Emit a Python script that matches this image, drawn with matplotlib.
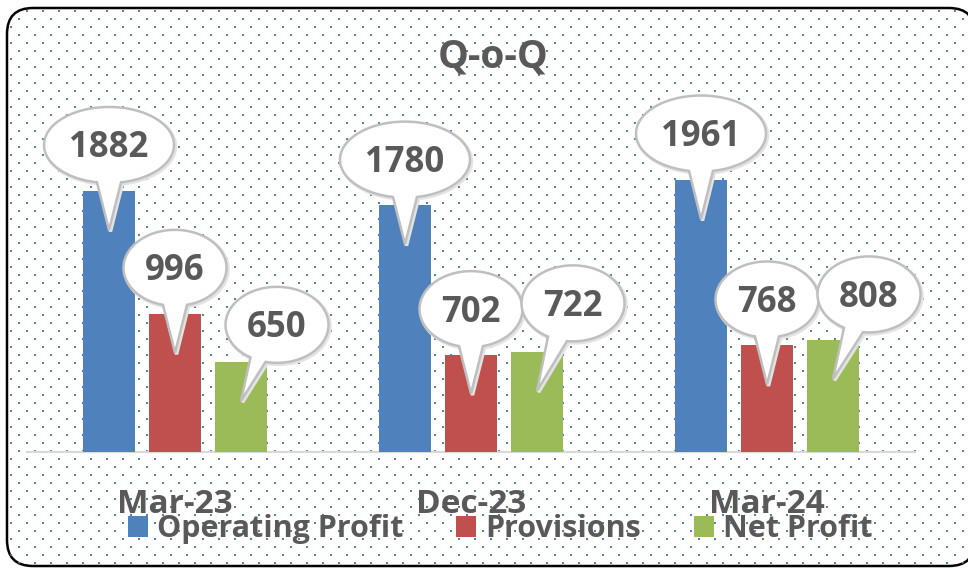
import numpy as np
import matplotlib
matplotlib.use('Agg')
import matplotlib.pyplot as plt
from matplotlib.patches import FancyBboxPatch, Polygon, Rectangle

# ---------------- data ----------------
categories = ['Mar-23', 'Dec-23', 'Mar-24']
series_names = ['Operating Profit', 'Provisions', 'Net Profit']
operating_profit = [1882, 1780, 1961]
provisions = [996, 702, 768]
net_profit = [650, 722, 808]
chart_title = 'Q-o-Q'

# ---------------- style ----------------
colors = ['#4F81BD', '#C0504D', '#9BBB59']
text_color = '#595959'
FONT = ['Open Sans', 'DejaVu Sans']
plt.rcParams['font.family'] = FONT

W, H = 968, 570
fig = plt.figure(figsize=(W / 100, H / 100), dpi=100)
fig.patch.set_facecolor('white')

# background axes in image pixel coords (y down)
bg = fig.add_axes([0, 0, 1, 1], zorder=0)
bg.set_xlim(0, W)
bg.set_ylim(H, 0)
bg.axis('off')

border = FancyBboxPatch((7, 8), 975 - 7, 566 - 8,
                        boxstyle='round,pad=0,rounding_size=26',
                        facecolor='white', edgecolor='black', linewidth=1.8,
                        zorder=1)
bg.add_patch(border)

# dotted pattern as a pixel image
pattern = np.zeros((H, W, 4))
dot_rgb = np.array([0x4F, 0x81, 0xBD]) / 255.0
for j, yy in enumerate(range(2, H - 1, 8)):
    for xx in range(2 + 8 * (j % 2), W - 1, 16):
        pattern[yy:yy + 2, xx:xx + 2, :3] = dot_rgb
        pattern[yy:yy + 2, xx:xx + 2, 3] = 1.0
im = bg.imshow(pattern, extent=(0, W, H, 0), interpolation='nearest', zorder=2)
im.set_clip_path(border)
bg.set_xlim(0, W)
bg.set_ylim(H, 0)

# ---------------- main axes ----------------
ax = fig.add_axes([27 / W, (H - 452) / H, 888 / W, (452 - 90) / H], zorder=2)
ax.patch.set_alpha(0)
ax.set_xlim(-0.5, 2.5)
ax.set_ylim(0, 2610)
for s in ['left', 'right', 'top']:
    ax.spines[s].set_visible(False)
ax.spines['bottom'].set_color('#D9D9D9')
ax.spines['bottom'].set_linewidth(1.6)
ax.set_yticks([])
x = np.arange(len(categories))
ax.set_xticks(x)
ax.set_xticklabels(categories, fontsize=24, fontweight='bold', color=text_color)
ax.tick_params(axis='x', length=0, pad=26)

series = [operating_profit, provisions, net_profit]
width = 0.1757
offsets = [-0.223, 0.0, 0.223]
handles = []
for vals, off, c in zip(series, offsets, colors):
    ax.bar(x + off, vals, width=width, color=c, zorder=3)
    handles.append(Rectangle((0, 0), 1, 1, facecolor=c))

# title
bg.text(493, 57, chart_title, ha='center', va='center', fontsize=28,
        fontweight='bold', color=text_color, zorder=5)

# legend
fig.legend(handles, series_names, loc='center',
           bbox_to_anchor=(500 / W, 1 - 529 / H), ncol=3, frameon=False,
           prop={'family': FONT, 'weight': 'bold', 'size': 22},
           labelcolor=text_color, handlelength=0.66, handleheight=0.66,
           handletextpad=0.3, columnspacing=1.72, borderaxespad=0)

# ---------------- callout balloons ----------------
ov = fig.add_axes([0, 0, 1, 1], zorder=4)
ov.set_xlim(0, W)
ov.set_ylim(H, 0)
ov.axis('off')
ov.patch.set_alpha(0)

# balloon layout (pixels): vertical offset of ellipse centre from bar top
balloon_dy = [[-46, -45.5, -46.5], [-46, -45.5, -46], [-37, -48.5, -45.5]]


def balloon(bx, by, value, shift, dy, base):
    cx, cy = bx + shift, by + dy
    a = 65 if len(str(value)) >= 4 else 51.5
    b = 38
    u1, u2 = base
    t1 = np.arccos(u1 / a)
    t2 = np.arccos(u2 / a)
    th = np.linspace(t1, t2 + 2 * np.pi, 200)
    pts = np.column_stack([cx + a * np.cos(th), cy + b * np.sin(th)])
    tip = np.array([[bx, by + 39]])
    pts = np.vstack([pts, tip])
    shadow = Polygon(pts + np.array([1.5, 1.5]), closed=True, facecolor='none',
                     edgecolor='#E3E3E3', linewidth=2.5, zorder=5)
    ov.add_patch(shadow)
    poly = Polygon(pts, closed=True, facecolor='white', edgecolor='#BFBFBF',
                   linewidth=1.8, joinstyle='miter', zorder=6)
    ov.add_patch(poly)
    ov.text(cx, cy + 12.5, str(value), ha='center', va='baseline', fontsize=25,
            fontweight='bold', color=text_color, zorder=7)


for si, (vals, off) in enumerate(zip(series, offsets)):
    for j, v in enumerate(vals):
        dx_, dy_ = ax.transData.transform((x[j] + off, v))
        bx, by = dx_, H - dy_
        if si == 2:
            base = (-26.5, -11.5) if balloon_dy[si][j] > -40 else (-25, -6)
            balloon(bx, by, v, 36, balloon_dy[si][j], base)
        else:
            balloon(bx, by, v, 0, balloon_dy[si][j], (-12, 12))

fig.savefig('out.png', dpi=100, facecolor='white')
